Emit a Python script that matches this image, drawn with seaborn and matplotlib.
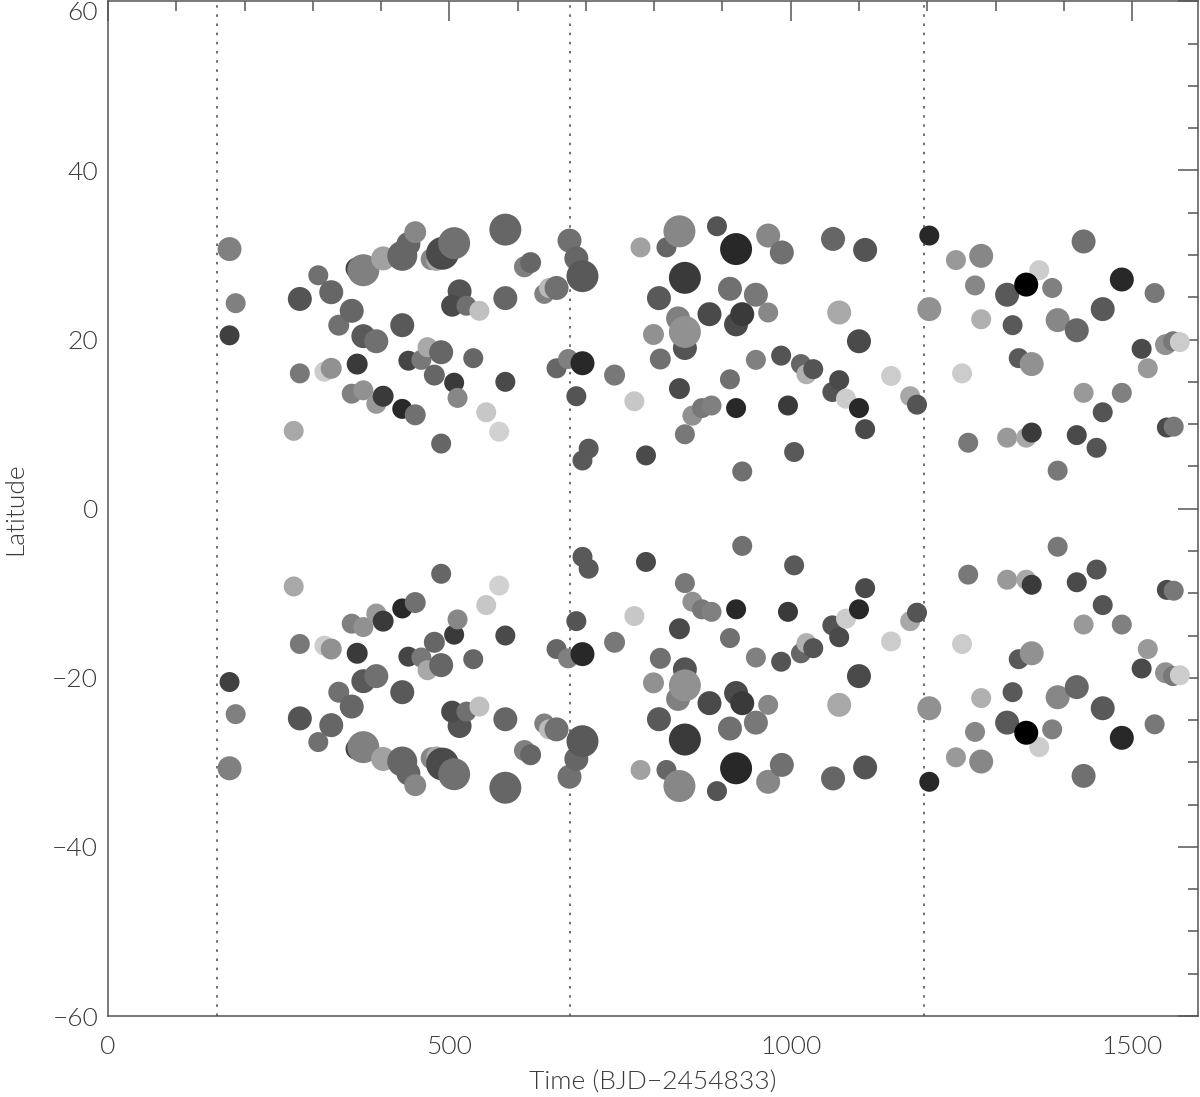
import matplotlib
matplotlib.use("Agg")
import matplotlib.pyplot as plt
import pandas as pd
import seaborn as sns
from matplotlib import font_manager
from matplotlib.ticker import MultipleLocator

# spot time (BJD-2454833), latitude (northern, mirrored below), relative area, shade (0 black .. 1 white)
time = [178, 187, 178, 272, 281, 281, 308, 317, 327, 327, 338, 357, 357, 364, 365, 374, 374, 374,
        393, 393, 403, 403, 431, 431, 431, 440, 440, 450, 450, 459, 468, 474, 481, 488, 488, 490,
        478, 507, 507, 512, 515, 504, 525, 535, 544, 554, 573, 582, 582, 582, 610, 619, 639, 646,
        657, 657, 674, 676, 686, 695, 686, 695, 704, 695, 742, 771, 780, 788, 799, 807, 809, 818,
        837, 837, 835, 845, 845, 845, 845, 856, 870, 884, 881, 892, 911, 911, 920, 920, 920, 929,
        929, 949, 949, 967, 967, 987, 986, 996, 1005, 1015, 1023, 1033, 1061, 1062, 1071, 1071,
        1081, 1100, 1100, 1109, 1109, 1147, 1175, 1185, 1203, 1203, 1242, 1251, 1260, 1270, 1279,
        1279, 1317, 1317, 1325, 1334, 1364, 1345, 1345, 1353, 1353, 1383, 1391, 1391, 1419, 1419,
        1429, 1429, 1448, 1457, 1457, 1485, 1485, 1514, 1523, 1533, 1549, 1551, 1560, 1561, 1570]
lat = [30.7, 24.3, 20.5, 9.2, 24.8, 16.0, 27.6, 16.2, 16.6, 25.6, 21.7, 23.4, 13.6, 28.4, 17.1, 28.2,
       20.4, 14.0, 19.8, 12.4, 29.6, 13.3, 29.9, 21.7, 11.8, 31.3, 17.5, 32.7, 11.1, 17.6, 19.1, 29.5,
       29.3, 7.7, 18.5, 30.2, 15.8, 31.4, 14.9, 13.1, 25.7, 24.0, 24.0, 17.8, 23.4, 11.4, 9.1, 33.0,
       24.9, 15.0, 28.6, 29.1, 25.4, 26.1, 26.1, 16.6, 17.7, 31.7, 29.6, 27.5, 13.3, 17.2, 7.1, 5.7,
       15.8, 12.7, 30.9, 6.3, 20.6, 24.9, 17.7, 30.9, 32.8, 14.2, 22.5, 27.3, 19.0, 20.9, 8.8, 11.0,
       11.9, 12.2, 23.0, 33.4, 26.0, 15.3, 30.7, 21.8, 11.9, 23.0, 4.4, 25.3, 17.6, 32.3, 23.2, 30.3,
       18.1, 12.2, 6.7, 17.1, 15.9, 16.5, 13.8, 31.9, 15.2, 23.2, 13.0, 19.8, 11.9, 30.6, 9.4, 15.7,
       13.3, 12.3, 32.3, 23.6, 29.4, 16.0, 7.8, 26.4, 29.9, 22.4, 25.3, 8.4, 21.7, 17.8, 28.2, 26.5,
       8.4, 17.1, 9.0, 26.1, 22.3, 4.5, 21.1, 8.7, 31.6, 13.7, 7.2, 23.6, 11.4, 27.1, 13.7, 18.9,
       16.6, 25.5, 19.4, 9.6, 19.8, 9.7, 19.7]
area = [1.44, 1.0, 1.0, 1.0, 1.44, 1.0, 1.0, 1.0, 1.1, 1.44, 1.1, 1.44, 1.0, 1.2, 1.1, 2.56, 1.44,
        1.0, 1.44, 1.0, 1.44, 1.1, 2.25, 1.44, 1.0, 1.44, 1.0, 1.2, 1.1, 1.0, 1.0, 1.2, 1.0, 1.0,
        1.44, 2.7, 1.1, 2.56, 1.0, 1.0, 1.44, 1.2, 1.0, 1.0, 1.0, 1.0, 1.0, 2.56, 1.44, 1.0, 1.1,
        1.1, 1.0, 1.0, 1.44, 1.0, 1.0, 1.44, 1.44, 2.56, 1.0, 1.44, 1.0, 1.0, 1.1, 1.0, 1.0, 1.0,
        1.1, 1.44, 1.1, 1.0, 2.56, 1.1, 1.44, 2.56, 1.44, 2.56, 1.0, 1.0, 1.0, 1.0, 1.44, 1.0,
        1.44, 1.0, 2.56, 1.44, 1.0, 1.44, 1.0, 1.44, 1.0, 1.44, 1.0, 1.44, 1.0, 1.0, 1.0, 1.0,
        1.0, 1.0, 1.0, 1.44, 1.0, 1.44, 1.0, 1.44, 1.0, 1.44, 1.0, 1.0, 1.0, 1.0, 1.0, 1.44,
        1.0, 1.0, 1.0, 1.0, 1.44, 1.0, 1.44, 1.0, 1.0, 1.0, 1.0, 1.44, 1.0, 1.44, 1.0, 1.0,
        1.44, 1.0, 1.44, 1.0, 1.44, 1.0, 1.0, 1.44, 1.0, 1.44, 1.0, 1.0, 1.0, 1.0, 1.1, 1.0,
        1.0, 1.0, 1.0]
shade = [.50, .50, .25, .66, .33, .47, .44, .80, .57, .40, .44, .40, .50, .25, .23, .50, .35, .57,
         .44, .60, .63, .23, .40, .35, .16, .40, .27, .53, .44, .47, .66, .53, .66, .40, .40, .29,
         .40, .44, .23, .53, .33, .29, .44, .40, .75, .78, .82, .40, .40, .29, .50, .40, .50, .73,
         .44, .40, .50, .44, .40, .35, .33, .16, .35, .35, .47, .78, .63, .29, .57, .35, .44, .40,
         .53, .29, .50, .23, .33, .57, .47, .57, .47, .50, .29, .33, .44, .44, .16, .29, .16, .23,
         .44, .47, .50, .53, .53, .44, .33, .23, .35, .40, .69, .33, .33, .40, .29, .66, .80, .29,
         .16, .33, .29, .80, .66, .33, .16, .57, .60, .80, .47, .53, .53, .69, .35, .60, .35, .35,
         .80, .0, .66, .57, .23, .50, .53, .47, .40, .29, .44, .60, .33, .35, .33, .16, .50, .29,
         .60, .47, .57, .29, .47, .47, .80]

quarter_breaks = [160, 677, 1195]

df = pd.DataFrame({
    "time": time + time,
    "lat": lat + [-v for v in lat],
    "area": area + area,
    "shade": shade + shade,
})

sns.set_style("white")

# pick a thin font if one is installed
family = "DejaVu Sans"
for cand in ["Lato", "Roboto", "Open Sans", "Inter", "Noto Sans"]:
    if any(f.name == cand and f.weight in (300, "light")
           for f in font_manager.fontManager.ttflist):
        family = cand
        break
plt.rcParams["font.family"] = [family, "DejaVu Sans"]
plt.rcParams["font.weight"] = 300

fig = plt.figure(figsize=(12, 10.97), dpi=100)
ax = fig.add_axes([0.09, 0.0738, 0.908, 0.925])

sns.scatterplot(data=df, x="time", y="lat", hue="shade", size="area",
                palette=plt.get_cmap("gray"), hue_norm=(0, 1),
                sizes=(207, 207 * 2.7), size_norm=(1.0, 2.7),
                linewidth=0, legend=False, ax=ax, zorder=3)

for q in quarter_breaks:
    ax.axvline(q, color="#555555", lw=1.2, ls=(0, (1.5, 4)), zorder=1)

ax.set_xlim(0, 1596)
ax.set_ylim(-60, 60)
ax.xaxis.set_major_locator(MultipleLocator(500))
ax.xaxis.set_minor_locator(MultipleLocator(100))
ax.yaxis.set_major_locator(MultipleLocator(20))
ax.yaxis.set_minor_locator(MultipleLocator(5))

tc = "#555555"
lc = "#3a3a3a"
ax.tick_params(which="both", direction="in", top=True, right=True, color=tc,
               labelcolor=lc, labelsize=19, width=1.1)
ax.tick_params(which="major", length=14.5)
ax.tick_params(which="minor", length=7.5)
ax.tick_params(axis="x", pad=14)
ax.tick_params(axis="y", pad=7)
for s in ax.spines.values():
    s.set_color(tc)
    s.set_linewidth(1.1)

ax.set_xlabel("Time (BJD\u22122454833)", fontsize=19, color=lc, labelpad=8, fontweight=300)
ax.set_ylabel("Latitude", fontsize=19, color=lc, labelpad=18, fontweight=300)

fig.canvas.draw()
for lab in ax.get_yticklabels() + ax.get_xticklabels():
    lab.set_fontweight(300)
    if lab.get_position()[1] == 60 and lab in ax.get_yticklabels():
        lab.set_verticalalignment("top")

fig.savefig("out.png", dpi=100)
